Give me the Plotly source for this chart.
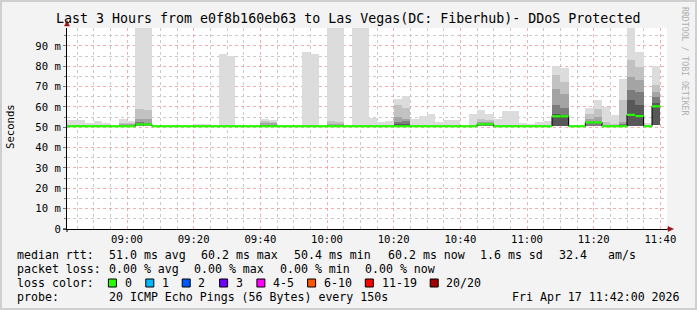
import plotly.graph_objects as go
import pandas as pd

# ---------------- data (milliseconds) ----------------
first_step_start = "2026-04-17 08:40:00"   # RRD step = 150 s
step_seconds = 150

median_ms = [50.5]*9 + [51.4, 51.4] + [50.5]*39 + [51.5, 51.5] + [50.5]*7 + \
            [55.4, 55.4, 50.5, 50.5, 52.4, 52.4, 50.5, 50.5, 50.5, 56.1, 55.5, 50.5, 60.3]

smoke_lo = [50.4]*59 + [50.6, 50.6] + [50.4]*7 + [50.6, 50.8, 50.4, 51.0]

smoke_max = [53.4, 53.4, 53.4, 52.0, 52.9, 52.0, 50.4, 53.9, 53.2, 99.0,
             99.0, 50.4, 50.4, 50.4, 50.4, 50.4, 51.8, 51.8, 50.4, 85.8,
             85.0, 50.4, 50.4, 50.4, 53.9, 53.5, 50.4, 50.4, 50.4, 86.8,
             85.8, 50.4, 99.0, 99.0, 50.4, 99.0, 99.0, 54.5, 52.4, 53.1,
             63.7, 65.2, 54.1, 55.4, 56.4, 52.4, 53.4, 53.4, 50.4, 56.3,
             58.7, 56.3, 53.9, 58.2, 57.8, 52.0, 51.4, 52.4, 53.1, 80.3,
             79.1, 50.4, 50.4, 59.3, 63.2, 59.9, 55.9, 73.8, 99.0, 86.9,
             52.0, 80.2]

smoke_q2 = [51.3, 51.3, 51.3, 50.4, 51.3, 50.4, 50.4, 52.3, 52.0, 59.2,
            58.3, 50.4, 50.4, 50.4, 50.4, 50.4, 50.4, 50.4, 50.4, 50.4,
            50.4, 50.4, 50.4, 50.4, 53.1, 52.8, 50.4, 50.4, 50.4, 50.4,
            50.4, 50.4, 53.3, 52.5, 50.4, 50.4, 50.4, 50.4, 50.4, 50.4,
            60.8, 59.5, 50.4, 50.4, 50.4, 50.4, 50.4, 50.4, 50.4, 50.4,
            53.9, 53.6, 50.4, 51.3, 51.3, 50.4, 50.4, 50.4, 50.4, 75.5,
            72.5, 50.4, 50.4, 56.5, 59.0, 52.5, 51.5, 63.2, 82.9, 79.6,
            50.4, 70.6]

smoke_q3 = [50.4]*7 + [51.5, 51.4, 54.2, 54.0] + [50.4]*13 + [52.1, 52.0] + [50.4]*6 + \
           [51.8, 51.5] + [50.4]*6 + [55.0, 54.2] + [50.4]*8 + [52.6, 52.5] + [50.4]*7 + \
           [68.9, 66.5, 50.4, 50.4, 54.0, 54.9, 50.4, 50.4, 52.6, 74.7, 73.0, 50.4, 67.5]

smoke_q4 = [50.4]*9 + [52.6, 52.3] + [50.4]*13 + [51.3, 51.2] + [50.4]*14 + \
           [52.6, 53.0] + [50.4]*8 + [51.8, 51.7] + [50.4]*7 + \
           [60.8, 59.5, 50.4, 50.4, 52.0, 52.4, 50.4, 50.4, 51.5, 68.2, 67.3, 50.4, 64.9]

smoke_q5 = [50.4]*40 + [51.6, 51.6] + [50.4]*17 + \
           [56.5, 56.0, 50.4, 50.4, 50.4, 50.4, 50.4, 50.4, 50.4, 63.2, 60.8, 50.4, 62.0]

y_tick_vals = [0, 10, 20, 30, 40, 50, 60, 70, 80, 90]
y_tick_text = ["0", "10 m", "20 m", "30 m", "40 m", "50 m", "60 m", "70 m", "80 m", "90 m"]
x_tick_times = ["09:00", "09:20", "09:40", "10:00", "10:20", "10:40", "11:00", "11:20", "11:40"]
day = "2026-04-17 "

loss_labels = ["0", "1", "2", "3", "4-5", "6-10", "11-19", "20/20"]
loss_colors = ["#26ff00", "#00b8ff", "#0059ff", "#7200ff", "#ff00ff", "#ff5500", "#ff0000", "#a00000"]

# ---------------- build ----------------
n = len(median_ms)
starts = pd.date_range(first_step_start, periods=n, freq=f"{step_seconds}s")
ends = starts + pd.Timedelta(seconds=step_seconds)
centers = starts + pd.Timedelta(seconds=step_seconds / 2)
bar_w = step_seconds * 1000

fig = go.Figure()
layers = [(smoke_max, "#dcdcdc"), (smoke_q2, "#c2c2c2"), (smoke_q3, "#a4a4a4"),
          (smoke_q4, "#7c7c7c"), (smoke_q5, "#585858")]
for vals, col in layers:
    h = [v - lo if v - lo > 0.05 else None for v, lo in zip(vals, smoke_lo)]
    fig.add_trace(go.Bar(x=centers, y=h, base=smoke_lo, width=bar_w,
                         marker=dict(color=col, line=dict(width=0)),
                         hoverinfo="skip", showlegend=False))

# black median step line
lx = list(starts) + [ends[-1]]
ly = list(median_ms) + [median_ms[-1]]
fig.add_trace(go.Scatter(x=lx, y=ly, mode="lines", line=dict(color="#000000", width=1, shape="hv"),
                         hoverinfo="skip", showlegend=False))
# green loss-coloured median band
gx, gy = [], []
for s, e, m in zip(starts, ends, median_ms):
    gx += [s, e, None]
    gy += [m, m, None]
fig.add_trace(go.Scatter(x=gx, y=gy, mode="lines", line=dict(color=loss_colors[0], width=2.2),
                         hoverinfo="skip", showlegend=False))

L, T, W, H = 67, 28, 600, 201
def px(x): return (x - L) / W
def py(y): return (T + H - y) / H

mono = "DejaVu Sans Mono"
major_x = [day + t for t in x_tick_times]
minor_x = [t for t in pd.date_range(day + "08:45", day + "11:40", freq="5min")
           if t.strftime("%H:%M") not in x_tick_times]

fig.update_layout(
    width=697, height=310, autosize=False,
    margin=dict(l=L, r=697 - L - W, t=T, b=310 - T - H, pad=0),
    paper_bgcolor="#f3f3f3", plot_bgcolor="#ffffff",
    barmode="overlay", bargap=0, showlegend=False,
    font=dict(family=mono, size=10.6, color="#000000"),
    xaxis=dict(type="date", range=[day + "08:42:00", day + "11:42:00"],
               tickmode="array", tickvals=major_x, ticktext=x_tick_times,
               showgrid=True, gridcolor="rgba(240,140,140,0.7)", griddash="dot", gridwidth=1,
               minor=dict(tickmode="array", tickvals=minor_x, showgrid=True,
                          gridcolor="#cacaca", griddash="dot", gridwidth=1),
               showline=True, linecolor="#000000", linewidth=1, ticks="",
               zeroline=False, fixedrange=True, tickfont=dict(family=mono, size=10.6)),
    yaxis=dict(range=[0, 98.8], tickmode="array", tickvals=y_tick_vals, ticktext=y_tick_text,
               showgrid=True, gridcolor="rgba(240,140,140,0.7)", griddash="dot", gridwidth=1,
               minor=dict(tickmode="array", tickvals=[5, 15, 25, 35, 45, 55, 65, 75, 85, 95],
                          showgrid=True, gridcolor="#cacaca", griddash="dot",
                          ticks="outside", ticklen=2, tickcolor="#777777"),
               ticks="outside", ticklen=3, tickcolor="#777777",
               showline=True, linecolor="#000000", linewidth=1,
               zeroline=False, fixedrange=True, tickfont=dict(family=mono, size=10.6)),
)

shapes = []
# outer frame
shapes.append(dict(type="rect", xref="paper", yref="paper", x0=px(1), x1=px(696), y0=py(309), y1=py(1),
                   line=dict(color="#cfcfcf", width=2), fillcolor="rgba(0,0,0,0)", layer="below"))
# axis extensions + arrows
shapes.append(dict(type="line", xref="paper", yref="paper", x0=px(667), x1=px(669), y0=py(229), y1=py(229),
                   line=dict(color="#000000", width=1)))
shapes.append(dict(type="line", xref="paper", yref="paper", x0=px(63), x1=px(67), y0=py(229), y1=py(229),
                   line=dict(color="#000000", width=1)))
shapes.append(dict(type="line", xref="paper", yref="paper", x0=px(67), x1=px(67), y0=py(232), y1=py(229),
                   line=dict(color="#000000", width=1)))
shapes.append(dict(type="path", xref="paper", yref="paper",
                   path=f"M {px(64.5)} {py(26)} L {px(69.5)} {py(26)} L {px(67)} {py(20.5)} Z",
                   fillcolor="#a01010", line=dict(color="#a01010", width=0.5)))
shapes.append(dict(type="path", xref="paper", yref="paper",
                   path=f"M {px(668)} {py(226.5)} L {px(668)} {py(231.5)} L {px(673.5)} {py(229)} Z",
                   fillcolor="#a01010", line=dict(color="#a01010", width=0.5)))

ann = []
def text(x, y, s, size=11.6, anchor="left", color="#000000", angle=0):
    ann.append(dict(xref="paper", yref="paper", x=px(x), y=py(y), text=s, showarrow=False,
                    xanchor=anchor, yanchor="middle", borderpad=0, textangle=angle,
                    font=dict(family=mono, size=size, color=color)))

text(348.2, 18, "Last 3 Hours from e0f8b160eb63 to Las Vegas(DC: Fiberhub)- DDoS Protected",
     size=13.3, anchor="center")
text(10, 127, "Seconds", size=10.6, anchor="center", angle=-90)
text(685, 61, "RRDTOOL / TOBI OETIKER", size=8.2, anchor="center", color="#b0b0b0", angle=90)

row1 = [("median rtt:", 16.4), ("51.0 ms avg", 107.6), ("60.2 ms max", 200), ("50.4 ms min", 293.3),
        ("60.2 ms now", 386.7), ("1.6 ms sd", 479), ("32.4", 557.8), ("am/s", 606.7)]
row2 = [("packet loss:", 16.4), ("0.00 % avg", 107.6), ("0.00 % max", 193.3),
        ("0.00 % min", 279), ("0.00 % now", 364.4)]
for s, x in row1:
    text(x, 255.2, s)
for s, x in row2:
    text(x, 269, s)
text(16.4, 283, "loss color:")
box_x = [108.4, 145.8, 182.2, 219.6, 256.9, 307.6, 365.3, 430.2]
for bx, lab, col in zip(box_x, loss_labels, loss_colors):
    shapes.append(dict(type="rect", xref="paper", yref="paper", x0=px(bx), x1=px(bx + 8),
                       y0=py(287), y1=py(279), fillcolor=col, line=dict(color="#000000", width=1)))
    text(bx + 15.2, 283, lab)
text(16.4, 296.5, "probe:")
text(107.6, 296.5, "20 ICMP Echo Pings (56 Bytes) every 150s")
text(681, 296.5, "Fri Apr 17 11:42:00 2026", anchor="right")

fig.update_layout(shapes=shapes, annotations=ann)
fig.write_html("out.html")
